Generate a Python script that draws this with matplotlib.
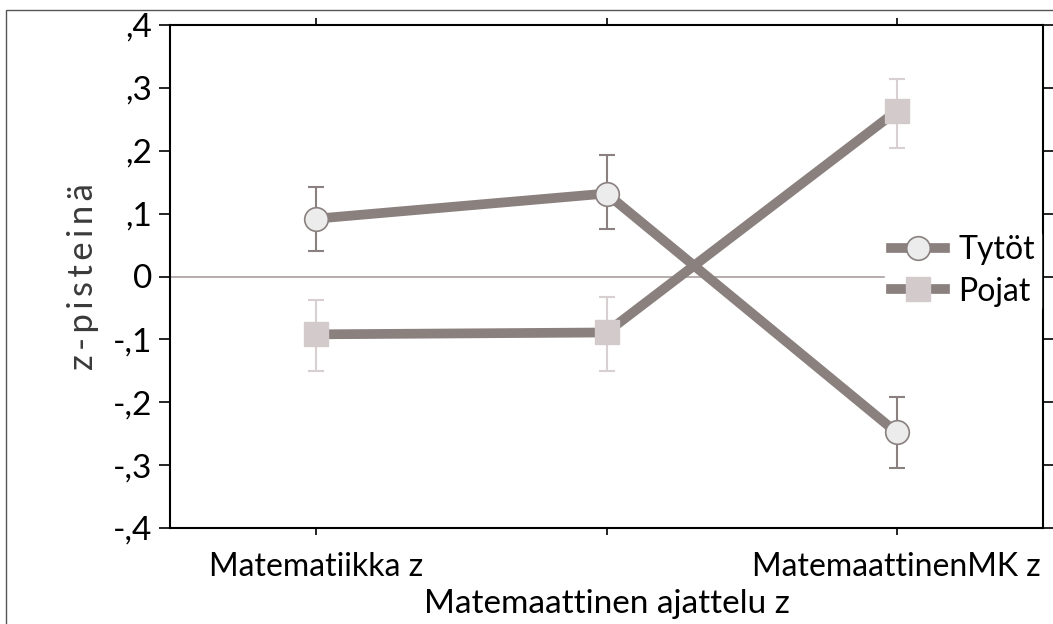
import numpy as np
import matplotlib.pyplot as plt
from matplotlib.patches import Rectangle

plt.rcParams['font.family'] = ['Lato', 'DejaVu Sans']

# data
categories = ['Matematiikka z', '', 'MatemaattinenMK z']
tytot = [0.092, 0.132, -0.248]
tytot_lo = [0.040, 0.076, -0.304]
tytot_hi = [0.143, 0.193, -0.191]
pojat = [-0.092, -0.089, 0.263]
pojat_lo = [-0.150, -0.150, 0.205]
pojat_hi = [-0.038, -0.032, 0.314]
yticks = [0.4, 0.3, 0.2, 0.1, 0.0, -0.1, -0.2, -0.3, -0.4]
ytick_labels = [',4', ',3', ',2', ',1', '0', '-,1', '-,2', '-,3', '-,4']
ylabel = 'z-pisteinä'

line_col = '#8a807e'
x = np.arange(len(categories))

fig = plt.figure(figsize=(10.53, 6.24), dpi=100)
ax = fig.add_axes([170/1053, 1 - 528/624, 873/1053, 503/624])

# outer frame of the picture
fig.patches.append(Rectangle((6/1053, -0.1), 1.2, 1 - 10/624 + 0.1, transform=fig.transFigure,
                             fill=False, edgecolor='#555555', linewidth=1.0))

ax.axhline(0, color='#a9a09e', linewidth=1.2, zorder=1)

t = np.array(tytot)
p = np.array(pojat)
ax.errorbar(x, t, yerr=[t - np.array(tytot_lo), np.array(tytot_hi) - t], fmt='none',
            ecolor='#8a8080', elinewidth=1.5, capsize=6, capthick=1.5, zorder=2)
ax.errorbar(x, p, yerr=[p - np.array(pojat_lo), np.array(pojat_hi) - p], fmt='none',
            ecolor='#d8d0d0', elinewidth=1.5, capsize=6, capthick=1.5, zorder=2)

ax.plot(x, t, color=line_col, linewidth=7, marker='o', markersize=17,
        markerfacecolor='#ececec', markeredgecolor='#8a8080', markeredgewidth=1.2,
        label='Tytöt', zorder=3)
ax.plot(x, p, color=line_col, linewidth=7, marker='s', markersize=17,
        markerfacecolor='#d3cbcb', markeredgecolor='#d3cbcb',
        label='Pojat', zorder=3)

ax.set_xlim(-0.505, 2.505)
ax.set_ylim(-0.4, 0.4)
ax.set_xticks(x)
ax.set_xticklabels(categories, fontsize=23)
ax.set_yticks(yticks)
ax.set_yticklabels(ytick_labels, fontsize=24)

ax.tick_params(axis='y', direction='out', length=8, width=1.2, right=True, pad=5)
ax.tick_params(axis='x', direction='out', length=5, width=1.2, top=True, pad=12)
for s in ax.spines.values():
    s.set_linewidth(1.5)

ax.set_xlabel('Matemaattinen ajattelu z', fontsize=24, labelpad=5)
# spaced letters like the original
ax.set_ylabel('\u2009'.join(ylabel), fontsize=25, color='#3a3a3a', labelpad=10,
              family=['Lato', 'DejaVu Sans'])

leg = ax.legend(loc='center right', bbox_to_anchor=(0.998, 0.511), frameon=True,
                fontsize=23, handlelength=1.7, handletextpad=0.4, borderpad=0.2,
                labelspacing=0.35, borderaxespad=0)
leg.get_frame().set_edgecolor('white')
leg.get_frame().set_facecolor('white')
leg.get_frame().set_alpha(1)

fig.savefig('out.png', dpi=100)
